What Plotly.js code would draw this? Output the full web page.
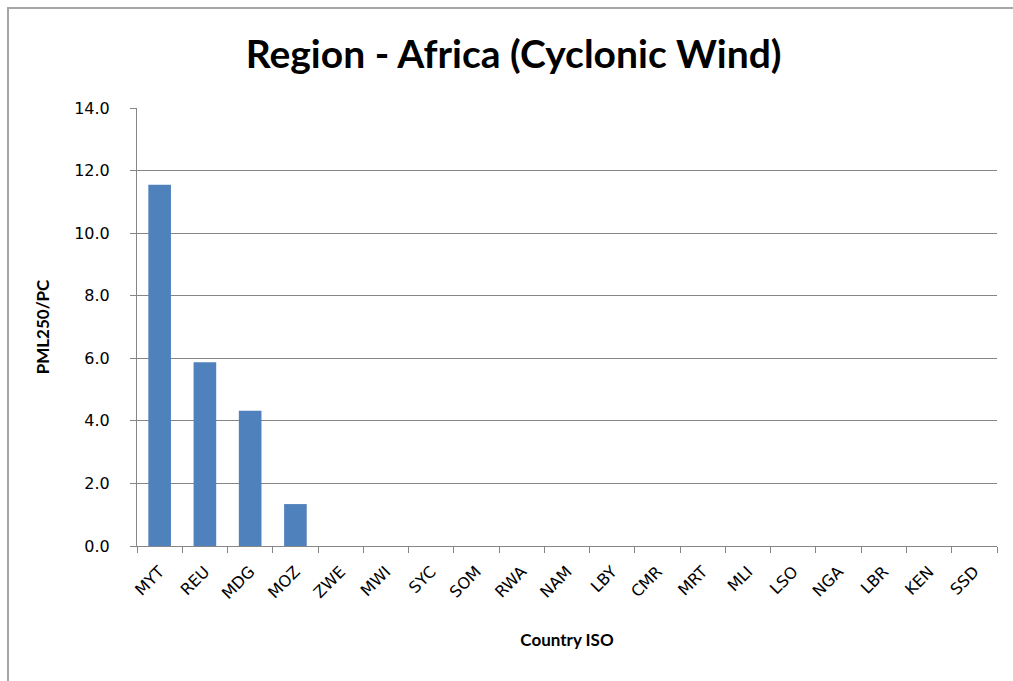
<!DOCTYPE html>
<html>
<head>
<meta charset="utf-8">
<script src="https://cdn.plot.ly/plotly-3.0.1.min.js"></script>
<style>
  html, body { margin: 0; padding: 0; background: #ffffff; }
  #wrap { position: relative; width: 1013px; height: 681px; overflow: hidden; }
  #frame { position: absolute; left: 7px; top: 7px; width: 1010px; height: 680px;
           border-top: 2px solid #a6a6a6; border-left: 2px solid #a6a6a6; pointer-events: none; }
  #chart { position: absolute; left: 0; top: 0; width: 1013px; height: 681px; }
</style>
</head>
<body>
<div id="wrap">
  <div id="chart"></div>
  <div id="frame"></div>
</div>
<script>
const countries = ["MYT","REU","MDG","MOZ","ZWE","MWI","SYC","SOM","RWA","NAM","LBY","CMR","MRT","MLI","LSO","NGA","LBR","KEN","SSD"];
const pmlValues = [11.55, 5.87, 4.32, 1.34, 0, 0, 0, 0, 0, 0, 0, 0, 0, 0, 0, 0, 0, 0, 0];
const yTickVals = [0, 2, 4, 6, 8, 10, 12, 14];
const yTickText = ["0.0","2.0","4.0","6.0","8.0","10.0","12.0","14.0"];

const trace = {
  type: "bar",
  x: countries,
  y: pmlValues,
  marker: { color: "#4F81BD", line: { width: 0 } },
  hoverinfo: "x+y"
};

const layout = {
  width: 1013,
  height: 681,
  paper_bgcolor: "#ffffff",
  plot_bgcolor: "#ffffff",
  margin: { l: 137, r: 16, t: 108, b: 135, pad: 0 },
  bargap: 0.5,
  showlegend: false,
  title: {
    text: "<b>Region - Africa (Cyclonic Wind)</b>",
    font: { family: "Lato, 'Open Sans', sans-serif", size: 39, color: "#000000" },
    x: 0.507, xanchor: "center",
    y: 0.92, yanchor: "middle"
  },
  xaxis: {
    type: "category",
    tickangle: -45,
    tickson: "boundaries",
    ticks: "outside",
    ticklen: 6,
    tickcolor: "#868686",
    tickwidth: 1,
    ticklabelstandoff: 9,
    showline: true,
    linecolor: "#868686",
    linewidth: 1,
    showgrid: false,
    zeroline: false,
    tickfont: { family: "'DejaVu Sans', sans-serif", size: 16, color: "#000000" },
    title: {
      text: "<b>Country ISO</b>",
      font: { family: "Lato, 'Open Sans', sans-serif", size: 17, color: "#000000" },
      standoff: 32
    },
    fixedrange: true
  },
  yaxis: {
    range: [0, 14],
    tickvals: yTickVals,
    ticktext: yTickText,
    ticks: "outside",
    ticklen: 6,
    tickcolor: "#868686",
    tickwidth: 1,
    ticklabelstandoff: 17,
    showline: true,
    linecolor: "#868686",
    linewidth: 1,
    showgrid: true,
    gridcolor: "#868686",
    gridwidth: 1,
    zeroline: false,
    tickfont: { family: "'DejaVu Sans', sans-serif", size: 16, color: "#000000" },
    title: {
      text: "<b>PML250/PC</b>",
      font: { family: "Lato, 'Open Sans', sans-serif", size: 17, color: "#000000" },
      standoff: 20
    },
    fixedrange: true
  }
};

Plotly.newPlot("chart", [trace], layout, { displayModeBar: false, staticPlot: true });
</script>
</body>
</html>
